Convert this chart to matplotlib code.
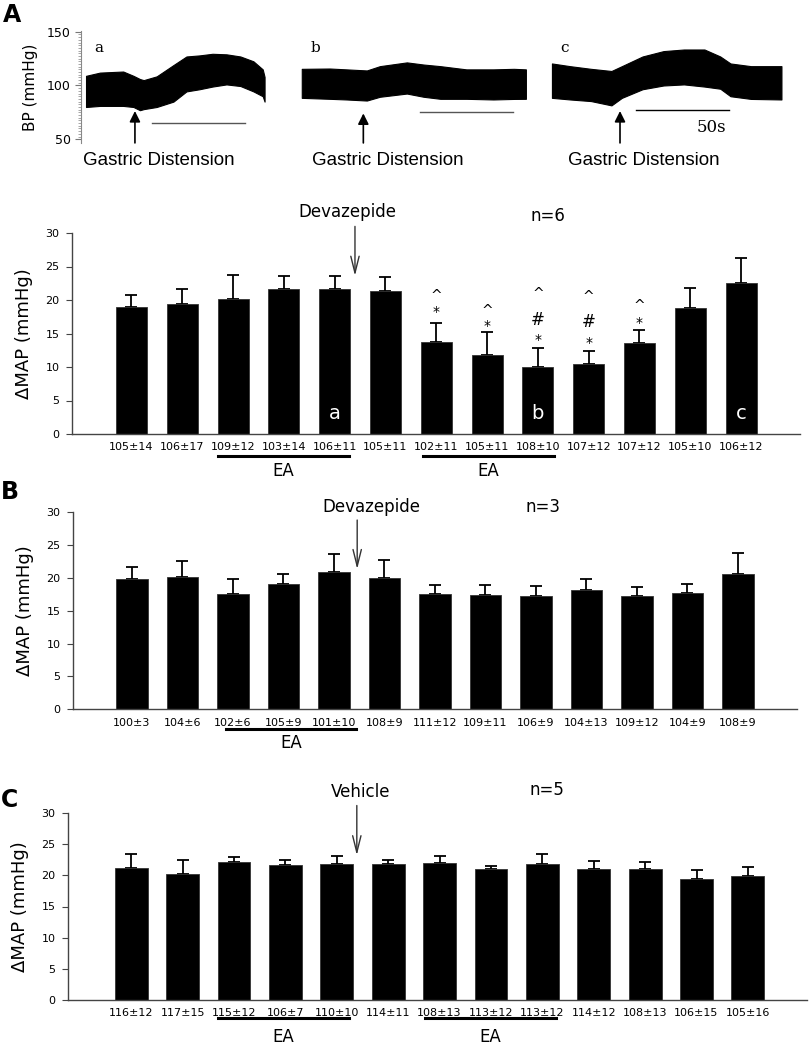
import numpy as np
import matplotlib
matplotlib.use('Agg')
import matplotlib.pyplot as plt

plt.rcParams['font.family'] = ['DejaVu Sans']

# ---- blood pressure traces (envelope of the raw signal), time in s, BP in mmHg
trace_a_t = [0, 7.5, 20, 25.5, 29, 31, 38, 47, 54, 61, 68, 75.5, 83, 90, 95, 96]
trace_a_hi = [109, 112, 113, 109, 106, 105, 108.5, 119, 127, 128, 129.5, 129, 127, 122.5, 115, 108]
trace_a_lo = [80, 81, 81, 80, 77, 78, 80, 85, 94.5, 96.5, 99, 101, 99.5, 94.5, 90, 85]

trace_b_t = [0, 15, 24, 35, 42, 56.5, 65.5, 74.5, 88.5, 103, 114, 120.5]
trace_b_hi = [115.5, 115.8, 115, 114, 118, 121.5, 119.5, 118, 115, 115, 115.5, 115]
trace_b_lo = [88.5, 87.6, 87, 86, 89.5, 92.5, 89.5, 87.6, 87.6, 87, 87.5, 87.6]

trace_c_t = [0, 9.7, 21, 32, 37.6, 48.7, 60, 71, 82, 90.5, 96, 107, 123.4]
trace_c_hi = [120.5, 118, 115.5, 113.5, 118, 127, 132, 133.5, 133.5, 127, 120.5, 118, 118]
trace_c_lo = [88.5, 87, 85.5, 81.5, 88.5, 96.5, 100, 101, 99, 97, 90, 87.5, 87]

trace_names = ['a', 'b', 'c']
distension_t = [26.3, 33.1, 36.6]      # time of gastric distension in each trace
bar_start = [35.3, 63.6, 45.3]         # 50 s scale bars
bar_len = 50

# ---- delta MAP bar data
A_vals = [19.0, 19.4, 20.1, 21.6, 21.6, 21.4, 13.8, 11.8, 10.0, 10.5, 13.6, 18.8, 22.5]
A_err = [1.8, 2.3, 3.6, 2.05, 2.0, 2.1, 2.7, 3.45, 2.9, 1.9, 1.9, 3.0, 3.8]
A_labels = ['105±14', '106±17', '109±12', '103±14', '106±11', '105±11', '102±11',
            '105±11', '108±10', '107±12', '107±12', '105±10', '106±12']

B_vals = [19.8, 20.1, 17.6, 19.1, 20.9, 19.9, 17.5, 17.45, 17.3, 18.2, 17.2, 17.7, 20.5]
B_err = [1.9, 2.4, 2.15, 1.5, 2.7, 2.8, 1.4, 1.4, 1.45, 1.55, 1.45, 1.4, 3.3]
B_labels = ['100±3', '104±6', '102±6', '105±9', '101±10', '108±9', '111±12',
            '109±11', '106±9', '104±13', '109±12', '104±9', '108±9']

C_vals = [21.2, 20.3, 22.2, 21.6, 21.85, 21.85, 22.05, 21.05, 21.9, 21.1, 21.0, 19.45, 19.85]
C_err = [2.2, 2.2, 0.75, 0.85, 1.35, 0.7, 1.1, 0.45, 1.6, 1.3, 1.2, 1.45, 1.45]
C_labels = ['116±12', '117±15', '115±12', '106±7', '110±10', '114±11', '108±13',
            '113±12', '113±12', '114±12', '108±13', '106±15', '105±16']

# significance marks in panel A: (bar, symbol, height)
A_marks = [(6, '^', 20.6), (6, '*', 18.2), (7, '^', 18.3), (7, '*', 16.1),
           (8, '^', 20.9), (8, '#', 17.0), (8, '*', 14.0),
           (9, '^', 20.4), (9, '#', 16.7), (9, '*', 13.6),
           (10, '^', 19.1), (10, '*', 16.5)]

fig = plt.figure(figsize=(8.1, 10.46), dpi=100)

# ---------------- traces ----------------
axt = fig.add_axes([81 / 810, 1 - 143 / 1046, 709 / 810, 112 / 1046])
offsets = [2.7, 118.7, 253.2]
traces = [(trace_a_t, trace_a_hi, trace_a_lo),
          (trace_b_t, trace_b_hi, trace_b_lo),
          (trace_c_t, trace_c_hi, trace_c_lo)]
tip_y = [78.8, 76.6, 78.8]
scale_y = [65, 75.6, 76.8]
for i, (t, hi, lo) in enumerate(traces):
    tt = np.array(t) + offsets[i]
    axt.fill_between(tt, lo, hi, color='black', lw=0.8, edgecolor='black')
    axt.text(offsets[i] + 4.5, 135, trace_names[i], family='DejaVu Serif', fontsize=11, va='center')
    xd = offsets[i] + distension_t[i]
    axt.annotate('', xy=(xd, tip_y[i]), xytext=(xd, 44), annotation_clip=False,
                 arrowprops=dict(arrowstyle='-|>', color='black', lw=1.2, mutation_scale=16))
    axt.text(xd + 13, 30.5, 'Gastric Distension', ha='center', va='center', fontsize=13.5,
             family=['Liberation Sans Narrow', 'Liberation Sans'], clip_on=False)
    xb = offsets[i] + bar_start[i]
    axt.plot([xb, xb + bar_len], [scale_y[i]] * 2,
             color='#555555' if i < 2 else 'black', lw=1)
axt.text(offsets[2] + 85.5, 60.7, '50s', family='DejaVu Serif', fontsize=12,
         ha='center', va='center')
axt.set_xlim(0, 381.2)
axt.set_ylim(46.5, 150.7)
axt.set_yticks([50, 100, 150])
axt.set_yticks(np.arange(50, 151, 2.5), minor=True)
axt.tick_params(axis='y', colors='#777777', labelcolor='black', labelsize=9, length=4, width=0.8)
axt.tick_params(axis='y', which='minor', colors='#999999', length=2.5, width=0.6)
axt.tick_params(axis='x', bottom=False, labelbottom=False)
for s in ['top', 'right', 'bottom']:
    axt.spines[s].set_visible(False)
axt.spines['left'].set_color('#888888')
axt.set_ylabel('BP (mmHg)', fontsize=11, labelpad=6)


def bar_panel(rect, xlim, width, vals, errs, labels, drug, drug_x, drug_y, arrow_x,
              arrow_top, arrow_tip, n_text, n_x, n_y, ea_spans, ea_y, ea_text_y):
    ax = fig.add_axes(rect)
    x = np.arange(len(vals))
    ax.bar(x, vals, width, color='black', edgecolor='#333333', lw=0.6, zorder=2)
    ax.errorbar(x, vals, yerr=[np.zeros(len(vals)), errs], fmt='none', ecolor='black',
                elinewidth=1.3, capsize=4, capthick=1.3, zorder=1)
    ax.set_xlim(*xlim)
    ax.set_ylim(0, 30)
    ax.set_yticks(range(0, 31, 5))
    ax.set_xticks(x, labels, fontsize=8)
    ax.tick_params(axis='x', length=0, pad=6)
    ax.tick_params(axis='y', labelsize=8, length=4, color='#444444', pad=5)
    for s in ['top', 'right']:
        ax.spines[s].set_visible(False)
    for s in ['left', 'bottom']:
        ax.spines[s].set_color('#444444')
        ax.spines[s].set_linewidth(1.0)
    ax.set_ylabel('ΔMAP (mmHg)', fontsize=13, labelpad=9)
    ax.text(drug_x, drug_y, drug, fontsize=12, ha='center', va='center', clip_on=False)
    ax.annotate('', xy=(arrow_x, arrow_tip), xytext=(arrow_x, arrow_top), annotation_clip=False,
                arrowprops=dict(arrowstyle='->,head_length=1.2,head_width=0.3', color='#333333', lw=1))
    ax.text(n_x, n_y, n_text, fontsize=12, ha='center', va='center', clip_on=False)
    tr = ax.get_xaxis_transform()
    for x0, x1 in ea_spans:
        ax.plot([x0, x1], [ea_y, ea_y], color='black', lw=2.2, transform=tr, clip_on=False)
        ax.text((x0 + x1) / 2, ea_text_y, 'EA', fontsize=12, ha='center', va='center',
                transform=tr)
    return ax


axA = bar_panel([72 / 810, 1 - 434 / 1046, 728 / 810, 201 / 1046], (-1.17, 13.16), 0.61,
                A_vals, A_err, A_labels, 'Devazepide', 4.25, 33.1, 4.4, 31.4, 23.2,
                'n=6', 8.2, 32.6, [(1.70, 4.28), (5.74, 8.32)], -22 / 201, -37 / 201)
for i, s, y in A_marks:
    fs = 12 if s == '#' else 10
    axA.text(i, y, s, ha='center', va='center', fontsize=fs)
for i, s in [(4, 'a'), (8, 'b'), (12, 'c')]:
    axA.text(i, 3.0, s, color='white', ha='center', va='center', fontsize=14)

bar_panel([73 / 810, 1 - 709.3 / 1046, 724 / 810, 197.3 / 1046], (-1.168, 13.17), 0.63,
          B_vals, B_err, B_labels, 'Devazepide', 4.75, 30.7, 4.46, 29.2, 20.9,
          'n=3', 8.14, 30.7, [(1.86, 4.44)], -20 / 197, -34 / 197)

bar_panel([68 / 810, 1 - 999.7 / 1046, 739 / 810, 186.4 / 1046], (-1.23, 13.15), 0.64,
          C_vals, C_err, C_labels, 'Vehicle', 4.47, 33.4, 4.39, 31.7, 22.8,
          'n=5', 8.09, 33.8, [(1.69, 4.23), (5.71, 8.26)], -18 / 186, -37 / 186)

fig.text(12 / 810, 1 - 15 / 1046, 'A', fontsize=17, fontweight='bold', ha='center', va='center')
fig.text(10 / 810, 1 - 492 / 1046, 'B', fontsize=17, fontweight='bold', ha='center', va='center')
fig.text(10 / 810, 1 - 800 / 1046, 'C', fontsize=17, fontweight='bold', ha='center', va='center')

fig.savefig('out.png', dpi=100)
